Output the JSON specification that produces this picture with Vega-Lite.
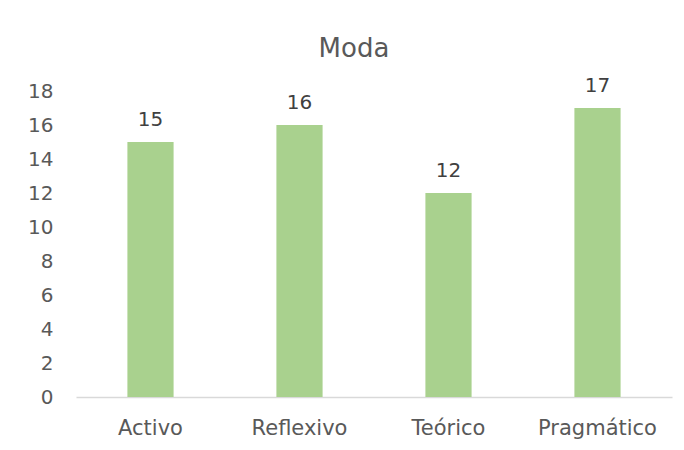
{
  "$schema": "https://vega.github.io/schema/vega-lite/v6.json",
  "autosize": "none",
  "width": 596,
  "height": 306,
  "padding": {"left": 76, "top": 91, "right": 12, "bottom": 53},
  "background": "white",
  "title": {
    "text": "Moda",
    "anchor": "middle",
    "dx": -20,
    "offset": 14,
    "font": "DejaVu Sans",
    "fontSize": 26,
    "fontWeight": "normal",
    "color": "#595959"
  },
  "data": {
    "values": [
      {"estilo": "Activo", "moda": 15},
      {"estilo": "Reflexivo", "moda": 16},
      {"estilo": "Teórico", "moda": 12},
      {"estilo": "Pragmático", "moda": 17}
    ]
  },
  "config": {
    "view": {"stroke": null},
    "font": "DejaVu Sans"
  },
  "encoding": {
    "x": {
      "field": "estilo",
      "type": "nominal",
      "sort": null,
      "scale": {"paddingInner": 0.69, "paddingOuter": 0.345},
      "axis": {
        "title": null,
        "labelAngle": 0,
        "labelFont": "DejaVu Sans",
        "labelFontSize": 21,
        "labelColor": "#595959",
        "labelPadding": 20,
        "ticks": false,
        "domainColor": "#d9d9d9",
        "domainWidth": 1.5
      }
    },
    "y": {
      "field": "moda",
      "type": "quantitative",
      "scale": {"domain": [0, 18], "nice": false},
      "axis": {
        "title": null,
        "values": [0, 2, 4, 6, 8, 10, 12, 14, 16, 18],
        "labelFont": "DejaVu Sans",
        "labelFontSize": 20,
        "labelColor": "#595959",
        "labelPadding": 23,
        "ticks": false,
        "domain": false,
        "grid": false
      }
    }
  },
  "layer": [
    {"mark": {"type": "bar", "color": "#A9D18E"}},
    {
      "mark": {
        "type": "text",
        "baseline": "bottom",
        "dy": -12,
        "font": "DejaVu Sans",
        "fontSize": 20,
        "color": "#404040"
      },
      "encoding": {"text": {"field": "moda", "type": "quantitative"}}
    }
  ]
}
